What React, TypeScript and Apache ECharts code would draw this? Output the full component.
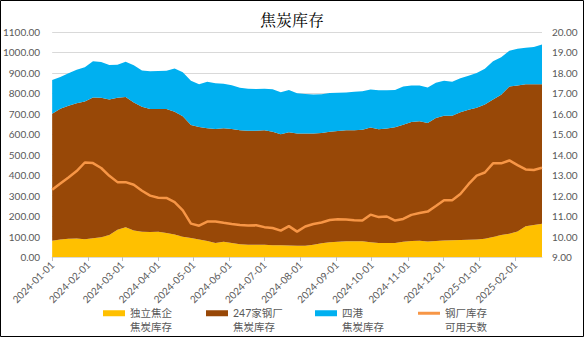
import React, { useEffect, useRef } from "react";
import * as echarts from "echarts";

const dates = [
  "2024-01-01", "2024-01-08", "2024-01-15", "2024-01-22", "2024-01-29",
  "2024-02-05", "2024-02-12", "2024-02-19", "2024-02-26", "2024-03-04",
  "2024-03-11", "2024-03-18", "2024-03-25", "2024-04-01", "2024-04-08",
  "2024-04-15", "2024-04-22", "2024-04-29", "2024-05-06", "2024-05-13",
  "2024-05-20", "2024-05-27", "2024-06-03", "2024-06-10", "2024-06-17",
  "2024-06-24", "2024-07-01", "2024-07-08", "2024-07-15", "2024-07-22",
  "2024-07-29", "2024-08-05", "2024-08-12", "2024-08-19", "2024-08-26",
  "2024-09-02", "2024-09-09", "2024-09-16", "2024-09-23", "2024-09-30",
  "2024-10-07", "2024-10-14", "2024-10-21", "2024-10-28", "2024-11-04",
  "2024-11-11", "2024-11-18", "2024-11-25", "2024-12-02", "2024-12-09",
  "2024-12-16", "2024-12-23", "2024-12-30", "2025-01-06", "2025-01-13",
  "2025-01-20", "2025-01-27", "2025-02-03", "2025-02-10", "2025-02-17",
  "2025-02-24",
];

// 独立焦企焦炭库存 (万吨)
const cokingPlant = [
  80, 85, 89, 90, 87, 92, 97, 108, 133, 146,
  129, 124, 122, 123, 117, 110, 99, 93, 86, 78,
  68, 74, 68, 62, 60, 60, 60, 58, 57, 56,
  55, 55, 60, 67, 72, 75, 77, 77, 77, 72,
  68, 68, 69, 75, 78, 80, 76, 78, 81, 82,
  83, 84, 86, 89, 98, 107, 114, 125, 150, 157,
  163,
];

// 247家钢厂焦炭库存
const steelMills = [
  620, 640, 651, 662, 673, 688, 681, 662, 645, 636,
  626, 611, 602, 600, 606, 600, 589, 552, 550, 552,
  558, 556, 558, 558, 557, 557, 560, 554, 543, 554,
  549, 549, 544, 539, 540, 541, 543, 543, 545, 561,
  556, 560, 565, 571, 582, 584, 579, 601, 609, 608,
  625, 636, 644, 656, 672, 686, 719, 713, 695, 688,
  682,
];

// 四港焦炭库存
const ports = [
  165, 155, 158, 163, 168, 177, 175, 169, 162, 173,
  183, 177, 184, 186, 187, 212, 215, 217, 209, 227,
  224, 217, 214, 208, 205, 204, 203, 208, 205, 206,
  196, 193, 190, 190, 190, 187, 184, 188, 188, 186,
  191, 187, 183, 188, 179, 174, 174, 173, 172, 167,
  166, 166, 170, 175, 187, 183, 175, 180, 178, 182,
  194,
];

// 钢厂库存可用天数
const availableDays = [
  12.29, 12.59, 12.89, 13.2, 13.62, 13.59, 13.35, 12.97, 12.66, 12.66,
  12.53, 12.24, 12.0, 11.9, 11.89, 11.68, 11.28, 10.63, 10.53, 10.73,
  10.74, 10.67, 10.61, 10.56, 10.54, 10.55, 10.46, 10.42, 10.29, 10.51,
  10.24, 10.49, 10.61, 10.69, 10.81, 10.84, 10.83, 10.8, 10.78, 11.07,
  10.95, 10.98, 10.78, 10.86, 11.06, 11.15, 11.22, 11.49, 11.78, 11.78,
  12.08, 12.56, 12.98, 13.13, 13.58, 13.58, 13.72, 13.49, 13.28, 13.25,
  13.36,
];

const seriesNames = [
  "独立焦企\n焦炭库存",
  "247家钢厂\n焦炭库存",
  "四港\n焦炭库存",
  "钢厂库存\n可用天数",
];

const colors = ["#FFC000", "#984807", "#00B0F0", "#F79646"];

const pair = (vals: number[]) => vals.map((v, i) => [dates[i], v]);

const pad2 = (n: number) => (n < 10 ? "0" + n : "" + n);

export default function App() {
  const ref = useRef<HTMLDivElement>(null);
  useEffect(() => {
    if (!ref.current) return;
    const chart = echarts.init(ref.current, undefined, { renderer: "svg" });
    const axisFont = { fontFamily: "Lato, 'Noto Sans CJK SC', sans-serif", fontSize: 10, color: "#595959" };
    const legendLefts = [103, 206, 315, 418];
    chart.setOption({
      animation: false,
      backgroundColor: "#ffffff",
      title: {
        text: "焦炭库存",
        left: "center",
        top: 11,
        padding: 0,
        textStyle: {
          fontFamily: "'Noto Serif CJK SC', serif",
          fontSize: 16,
          fontWeight: "normal",
          color: "#000000",
        },
      },
      legend: seriesNames.map((n, i) => ({
        data: [n],
        left: legendLefts[i],
        top: 293,
        padding: 0,
        itemWidth: 22,
        itemHeight: i === 3 ? 3 : 6,
        icon: "rect",
        selectedMode: false,
        formatter: (name: string) => "\n" + name,
        textStyle: {
          fontFamily: "Lato, 'Noto Sans CJK SC', sans-serif",
          fontSize: 10.5,
          color: "#595959",
          lineHeight: 13.5,
        },
      })),
      grid: { left: 52, right: 42, top: 32, bottom: 80 },
      xAxis: {
        type: "time",
        min: dates[0],
        max: dates[dates.length - 1],
        minInterval: 28 * 86400000,
        maxInterval: 31 * 86400000,
        axisLine: { show: true, lineStyle: { color: "#D9D9D9" } },
        axisTick: { show: true, length: 4, lineStyle: { color: "#BFBFBF" } },
        splitLine: { show: false },
        axisLabel: {
          ...axisFont,
          rotate: 45,
          margin: 6,
          showMaxLabel: false,
          formatter: (val: number) => {
            const d = new Date(val);
            if (d.getDate() !== 1) return "";
            return d.getFullYear() + "-" + pad2(d.getMonth() + 1) + "-" + pad2(d.getDate());
          },
        },
      },
      yAxis: [
        {
          type: "value",
          min: 0,
          max: 1100,
          interval: 100,
          axisLine: { show: false },
          axisTick: { show: false },
          splitLine: { lineStyle: { color: "#D9D9D9" } },
          axisLabel: { ...axisFont, margin: 12, formatter: (v: number) => v.toFixed(2) },
        },
        {
          type: "value",
          min: 9,
          max: 20,
          interval: 1,
          axisLine: { show: false },
          axisTick: { show: false },
          splitLine: { show: false },
          axisLabel: { ...axisFont, margin: 10, formatter: (v: number) => v.toFixed(2) },
        },
      ],
      series: [
        {
          name: seriesNames[0],
          type: "line",
          stack: "total",
          data: pair(cokingPlant),
          symbol: "none",
          color: colors[0],
          lineStyle: { width: 0 },
          areaStyle: { color: colors[0], opacity: 1 },
        },
        {
          name: seriesNames[1],
          type: "line",
          stack: "total",
          data: pair(steelMills),
          symbol: "none",
          color: colors[1],
          lineStyle: { width: 0 },
          areaStyle: { color: colors[1], opacity: 1 },
        },
        {
          name: seriesNames[2],
          type: "line",
          stack: "total",
          data: pair(ports),
          symbol: "none",
          color: colors[2],
          lineStyle: { width: 0 },
          areaStyle: { color: colors[2], opacity: 1 },
        },
        {
          name: seriesNames[3],
          type: "line",
          yAxisIndex: 1,
          data: pair(availableDays),
          symbol: "none",
          color: colors[3],
          lineStyle: { width: 2.5, color: colors[3] },
          z: 5,
        },
      ],
      graphic: [
        {
          type: "rect",
          shape: { x: 0.5, y: 0.5, width: 583, height: 336 },
          style: { fill: "none", stroke: "#000000", lineWidth: 1 },
          silent: true,
          z: 100,
        },
      ],
    });
    return () => chart.dispose();
  }, []);
  return (
    <div
      ref={ref}
      style={{ position: "absolute", left: 0, top: 0, width: 584, height: 337 }}
    />
  );
}
